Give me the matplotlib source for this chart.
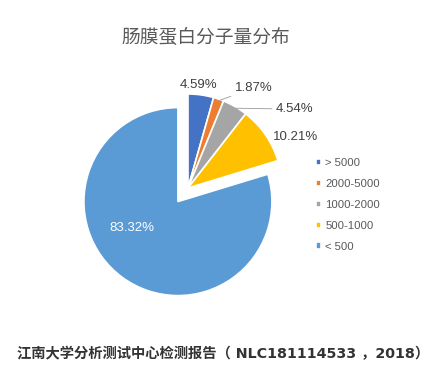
import numpy as np
import matplotlib.pyplot as plt

plt.rcParams['font.family'] = ['Liberation Sans', 'Noto Sans CJK SC', 'DejaVu Sans']

title = "肠膜蛋白分子量分布"
source = "江南大学分析测试中心检测报告（ NLC181114533 ，2018）"
categories = ["> 5000", "2000-5000", "1000-2000", "500-1000", "< 500"]
shares = [4.59, 1.87, 4.54, 10.21, 83.32]
colors = ["#4472C4", "#ED7D31", "#A5A5A5", "#FFC000", "#5B9BD5"]
explode = [0, 0, 0, 0, 0.18]

W, H = 434, 386
fig = plt.figure(figsize=(W / 100, H / 100), dpi=100)

# pie: radius 94px, center at (188, 188) from top-left
r_px, cx, cy = 94, 188, 188
half = 1.2 * r_px
ax = fig.add_axes([(cx - half) / W, (H - cy - half) / H, 2 * half / W, 2 * half / H])
wedges, _ = ax.pie(shares, colors=colors, explode=explode, startangle=90,
                   counterclock=False, radius=1.0,
                   wedgeprops=dict(edgecolor="white", linewidth=1.2))
ax.set_xlim(-1.2, 1.2)
ax.set_ylim(-1.2, 1.2)
ax.set_aspect("equal")
ax.axis("off")

def px(x, y):
    # figure pixel (from top-left) -> pie data coords
    return (x - cx) / r_px, (cy - y) / r_px

lab_col = "#404040"
fs = 9.5
labels = [f"{v:.2f}%" for v in shares]

ax.text(*px(198, 85), labels[0], ha="center", va="center", fontsize=fs, color=lab_col)

# small slices with leader lines
for i, (tx, ty) in [(1, (235, 88)), (2, (276, 109))]:
    w = wedges[i]
    mid = np.deg2rad((w.theta1 + w.theta2) / 2)
    ax.annotate(labels[i], xy=(np.cos(mid) * 0.98, np.sin(mid) * 0.98),
                xytext=px(tx, ty), ha="left", va="center", fontsize=fs, color=lab_col,
                arrowprops=dict(arrowstyle="-", color="#A6A6A6", lw=0.7,
                                shrinkA=1, shrinkB=0))

ax.text(*px(273, 137), labels[3], ha="left", va="center", fontsize=fs, color=lab_col)
ax.text(*px(132, 228), labels[4], ha="center", va="center", fontsize=fs, color="white")

leg = fig.legend(wedges, categories, loc="upper left",
                 bbox_to_anchor=(306 / W, 1 - 148 / H), frameon=False,
                 fontsize=8.2, handlelength=0.45, handleheight=0.45,
                 handletextpad=0.35, labelspacing=0.95, labelcolor="#595959")

fig.text(206 / W, 1 - 38 / H, title, ha="center", va="center",
         fontsize=13.5, color="#595959")
fig.text(17 / W, 1 - 354 / H, source, ha="left", va="center",
         fontsize=10.3, color="#333333", fontweight="bold",
         family=["DejaVu Sans", "Noto Sans CJK SC"])

fig.savefig("out.png", dpi=100, facecolor="white")
